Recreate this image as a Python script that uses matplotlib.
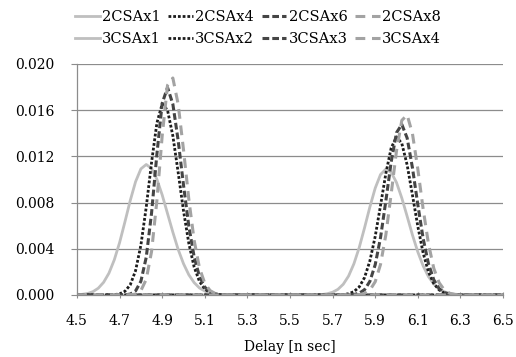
import numpy as np
import matplotlib
matplotlib.use('Agg')
import matplotlib.pyplot as plt

plt.rcParams['font.family'] = ['DejaVu Serif']

# datos (retardo en ns, densidad)
x_2csa = [4.500, 4.525, 4.550, 4.575, 4.600, 4.625, 4.650, 4.675, 4.700, 4.725,
          4.750, 4.775, 4.800, 4.825, 4.850, 4.875, 4.900, 4.925, 4.950, 4.975,
          5.000, 5.025, 5.050, 5.075, 5.100, 5.125, 5.150, 5.175, 5.200, 5.225, 5.250]
x_3csa = [5.625, 5.650, 5.675, 5.700, 5.725, 5.750, 5.775, 5.800, 5.825, 5.850,
          5.875, 5.900, 5.925, 5.950, 5.975, 6.000, 6.025, 6.050, 6.075, 6.100,
          6.125, 6.150, 6.175, 6.200, 6.225, 6.250, 6.275, 6.300, 6.325, 6.350, 6.375]

csa2_x1 = [0.00002, 0.00006, 0.00013, 0.00029, 0.00059, 0.00110, 0.00189, 0.00304, 0.00454, 0.00633,
           0.00818, 0.00981, 0.01092, 0.01130, 0.01095, 0.01002, 0.00866, 0.00705, 0.00544, 0.00394,
           0.00271, 0.00175, 0.00107, 0.00061, 0.00034, 0.00017, 0.00008, 0.00004, 0.00002, 0.00001, 0.0]
csa2_x4 = [0.0, 0.0, 0.0, 0.0, 0.0, 0.0, 0.0, 0.00003, 0.00010, 0.00032,
           0.00088, 0.00211, 0.00432, 0.00760, 0.01147, 0.01488, 0.01655, 0.01600, 0.01378, 0.01061,
           0.00729, 0.00447, 0.00242, 0.00118, 0.00051, 0.00020, 0.00007, 0.00002, 0.00001, 0.0, 0.0]
csa2_x6 = [0.0, 0.0, 0.0, 0.0, 0.0, 0.0, 0.0, 0.0, 0.0, 0.00001,
           0.00008, 0.00035, 0.00119, 0.00326, 0.00709, 0.01217, 0.01660, 0.01797, 0.01653, 0.01337,
           0.00952, 0.00596, 0.00330, 0.00160, 0.00068, 0.00026, 0.00009, 0.00003, 0.00001, 0.0, 0.0]
csa2_x8 = [0.0, 0.0, 0.0, 0.0, 0.0, 0.0, 0.0, 0.0, 0.0, 0.0,
           0.00001, 0.00008, 0.00038, 0.00135, 0.00376, 0.00817, 0.01379, 0.01816, 0.01879, 0.01651,
           0.01258, 0.00829, 0.00473, 0.00234, 0.00101, 0.00038, 0.00012, 0.00003, 0.00001, 0.0, 0.0]

csa3_x1 = [0.00002, 0.00004, 0.00011, 0.00024, 0.00049, 0.00093, 0.00164, 0.00270, 0.00411, 0.00582,
           0.00762, 0.00925, 0.01043, 0.01090, 0.01062, 0.00974, 0.00839, 0.00681, 0.00519, 0.00373,
           0.00252, 0.00159, 0.00095, 0.00053, 0.00028, 0.00014, 0.00007, 0.00003, 0.00001, 0.0, 0.0]
csa3_x2 = [0.0, 0.0, 0.0, 0.0, 0.00001, 0.00003, 0.00011, 0.00029, 0.00070, 0.00151,
           0.00295, 0.00507, 0.00775, 0.01052, 0.01273, 0.01369, 0.01312, 0.01126, 0.00864, 0.00595,
           0.00364, 0.00200, 0.00099, 0.00044, 0.00017, 0.00006, 0.00002, 0.00001, 0.0, 0.0, 0.0]
csa3_x3 = [0.0, 0.0, 0.0, 0.0, 0.0, 0.0, 0.00001, 0.00004, 0.00016, 0.00046,
           0.00118, 0.00262, 0.00497, 0.00815, 0.01152, 0.01405, 0.01477, 0.01359, 0.01100, 0.00783,
           0.00490, 0.00271, 0.00132, 0.00056, 0.00021, 0.00007, 0.00002, 0.00001, 0.0, 0.0, 0.0]
csa3_x4 = [0.0, 0.0, 0.0, 0.0, 0.0, 0.0, 0.0, 0.00001, 0.00003, 0.00013,
           0.00042, 0.00115, 0.00265, 0.00521, 0.00876, 0.01248, 0.01512, 0.01559, 0.01396, 0.01091,
           0.00746, 0.00444, 0.00231, 0.00107, 0.00042, 0.00015, 0.00004, 0.00001, 0.0, 0.0, 0.0]

x_min, x_max = 4.5, 6.5

# estilos: (color, grosor, patrón)
estilo_x1 = dict(color='#BFBFBF', lw=2.0, ls='-')
estilo_pt = dict(color='#1C1C1C', lw=2.0, ls=(0, (1, 0.7)))
estilo_rd = dict(color='#454545', lw=2.2, ls=(0, (2.2, 1.0)))
estilo_gr = dict(color='#A3A3A3', lw=2.2, ls=(0, (3.2, 2.2)))

series = [
    ('2CSAx1', x_2csa, csa2_x1, estilo_x1),
    ('3CSAx1', x_3csa, csa3_x1, estilo_x1),
    ('2CSAx4', x_2csa, csa2_x4, estilo_pt),
    ('3CSAx2', x_3csa, csa3_x2, estilo_pt),
    ('2CSAx6', x_2csa, csa2_x6, estilo_rd),
    ('3CSAx3', x_3csa, csa3_x3, estilo_rd),
    ('2CSAx8', x_2csa, csa2_x8, estilo_gr),
    ('3CSAx4', x_3csa, csa3_x4, estilo_gr),
]

fig = plt.figure(figsize=(5.16, 3.57), dpi=100)
ax = fig.add_axes([77 / 516, 1 - 295 / 357, 426 / 516, 231 / 357])

for nombre, xs, ys, est in series:
    # las curvas siguen en cero hasta los extremos del eje
    xx = np.r_[x_min, xs, x_max]
    yy = np.r_[0.0, ys, 0.0]
    ax.plot(xx, yy, label=nombre, **est)

ax.set_xlim(x_min, x_max)
ax.set_ylim(0, 0.020)
ax.set_xticks(np.round(np.arange(4.5, 6.51, 0.2), 1))
ax.set_yticks(np.round(np.arange(0, 0.0201, 0.004), 3))
ax.yaxis.set_major_formatter(matplotlib.ticker.FormatStrFormatter('%.3f'))
ax.xaxis.set_major_formatter(matplotlib.ticker.FormatStrFormatter('%.1f'))

ax.grid(axis='y', color='#8C8C8C', lw=0.9)
ax.set_axisbelow(True)
for s in ['top', 'right']:
    ax.spines[s].set_visible(False)
for s in ['left', 'bottom']:
    ax.spines[s].set_color('#8C8C8C')
    ax.spines[s].set_linewidth(0.9)

ax.tick_params(axis='y', direction='out', length=4, color='#8C8C8C', pad=12, labelsize=10)
ax.tick_params(axis='x', direction='inout', length=5, color='#8C8C8C', pad=11, labelsize=10)
ax.set_xlabel('Delay [n sec]', fontsize=10, labelpad=9)

fig.legend(loc='center', bbox_to_anchor=(258 / 516, 1 - 28 / 357), ncol=4, frameon=False,
           fontsize=10.5, handlelength=1.7, handletextpad=0.15, columnspacing=0.5,
           labelspacing=0.6)

plt.savefig('out.png', dpi=100)
